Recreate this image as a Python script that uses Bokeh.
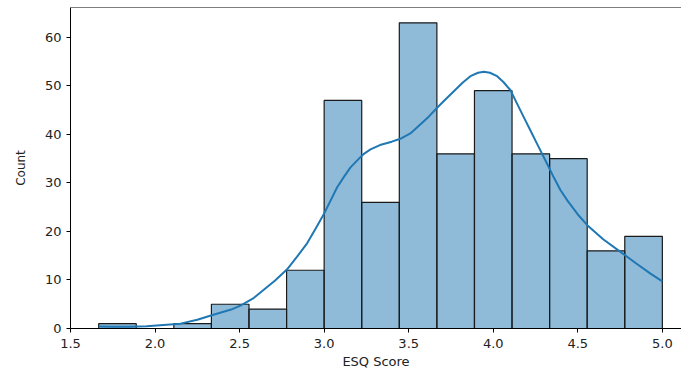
from bokeh.plotting import figure
from bokeh.models import FixedTicker, Range1d, Span, ColumnDataSource
from bokeh.embed import file_html
from bokeh.resources import INLINE

# Histogram data (15 bins from 1.6667 to 5.0)
bin_start = 1.0 + 2.0 / 3.0
bin_end = 5.0
counts = [1, 0, 1, 5, 4, 12, 47, 26, 63, 36, 49, 36, 35, 16, 19]

# KDE curve (scaled to counts)
kde_x = [1.667, 1.75, 1.85, 1.95, 2.05, 2.15, 2.25, 2.35, 2.45, 2.505, 2.58, 2.643,
         2.71, 2.781, 2.84, 2.9, 2.95, 3.0, 3.04, 3.077, 3.12, 3.156, 3.2, 3.235, 3.274,
         3.33, 3.4, 3.45, 3.51, 3.57, 3.62, 3.668, 3.72, 3.767, 3.82, 3.865, 3.91, 3.944,
         3.98, 4.023, 4.06, 4.102, 4.14, 4.181, 4.22, 4.26, 4.319, 4.36, 4.398, 4.44,
         4.5, 4.556, 4.65, 4.752, 4.85, 4.93, 5.0]
kde_y = [0.4, 0.35, 0.35, 0.45, 0.7, 1.0, 1.8, 2.9, 3.9, 4.7, 6.2, 8.0,
         9.9, 12.2, 14.8, 17.6, 20.6, 23.7, 26.5, 29.1, 31.4, 33.2, 34.8, 36.0, 36.9,
         37.8, 38.5, 39.1, 40.2, 42.1, 43.7, 45.5, 47.3, 48.9, 50.7, 52.0, 52.7, 52.9,
         52.7, 52.0, 50.8, 49.1, 46.4, 43.5, 40.8, 38.0, 33.9, 31.0, 28.5, 26.3,
         23.5, 21.3, 18.4, 15.8, 13.3, 11.3, 9.7]

x_ticks = [1.5, 2.0, 2.5, 3.0, 3.5, 4.0, 4.5, 5.0]
y_ticks = [0, 10, 20, 30, 40, 50, 60]

n = len(counts)
w = (bin_end - bin_start) / n
lefts = [bin_start + i * w for i in range(n)]
rights = [bin_start + (i + 1) * w for i in range(n)]

FONT = "DejaVu Sans"

p = figure(width=681, height=371, output_backend="svg", toolbar_location=None,
           min_border_left=70, min_border_right=0, min_border_top=7, min_border_bottom=42)
p.x_range = Range1d(1.5, 1.5 + (681 - 70) / 169.1)
p.y_range = Range1d(0, 66.15)

src = ColumnDataSource(dict(left=lefts, right=rights, top=counts, bottom=[0] * n))
p.quad(left="left", right="right", top="top", bottom="bottom", source=src,
       fill_color="#1f77b4", fill_alpha=0.5, line_color="#1a1a1a", line_width=1.2)
p.line(kde_x, kde_y, line_color="#1f77b4", line_width=2, line_join="round")

p.outline_line_color = None
p.add_layout(Span(location=66.15, dimension="width", line_color="black", line_width=1))

p.xgrid.visible = False
p.ygrid.visible = False

for ax in (p.xaxis, p.yaxis):
    ax.axis_line_color = "black"
    ax.major_tick_line_color = "black"
    ax.minor_tick_line_color = None
    ax.major_tick_out = 4
    ax.major_tick_in = 0
    ax.major_label_text_font = FONT
    ax.major_label_text_font_size = "13px"
    ax.major_label_text_color = "#222222"
    ax.axis_label_text_font = FONT
    ax.axis_label_text_font_style = "normal"
    ax.axis_label_text_color = "#222222"

p.xaxis.axis_label_text_font_size = "13px"
p.yaxis.axis_label_text_font_size = "12px"
p.xaxis.ticker = FixedTicker(ticks=x_ticks)
p.xaxis.major_label_overrides = {t: f"{t:.1f}" for t in x_ticks}
p.yaxis.ticker = FixedTicker(ticks=y_ticks)
p.xaxis.axis_label = "ESQ Score"
p.yaxis.axis_label = "Count"
p.xaxis.major_label_standoff = 6
p.xaxis.axis_label_standoff = 3
p.yaxis.major_label_standoff = 5
p.yaxis.axis_label_standoff = 14

open("out.html", "w").write(file_html(p, INLINE))
